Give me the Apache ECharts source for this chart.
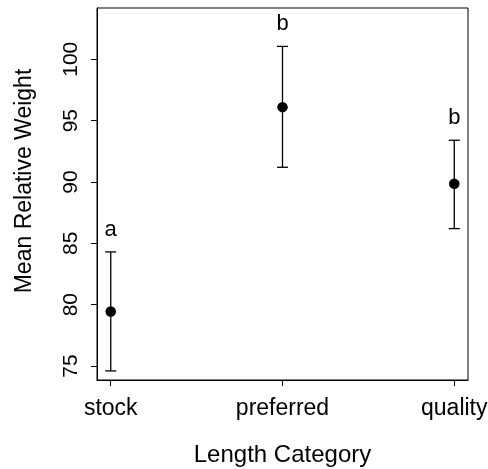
<!DOCTYPE html>
<html>
<head>
<meta charset="utf-8">
<script src="https://cdn.jsdelivr.net/npm/echarts@6/dist/echarts.min.js"></script>
<style>html,body{margin:0;padding:0;background:#fff;}#c{width:488px;height:469px;}</style>
</head>
<body>
<div id="c"></div>
<script>
const categories = ['stock', 'preferred', 'quality'];
const means = [79.45, 96.1, 89.85];
const upper = [84.3, 101.05, 93.4];
const lower = [74.6, 91.2, 86.2];
const letters = ['a', 'b', 'b'];
const yTicks = [75, 80, 85, 90, 95, 100];

const positions = categories.map((c, i) => i + 1);
const FONT = '"Liberation Sans", Arial, sans-serif';

const chart = echarts.init(document.getElementById('c'), null, { renderer: 'canvas' });
chart.setOption({
  animation: false,
  backgroundColor: '#fff',
  grid: { left: 97, right: 20, top: 8, bottom: 89, containLabel: false, outerBoundsMode: 'none',
    show: true, borderColor: '#000', borderWidth: 1, backgroundColor: 'transparent' },
  xAxis: {
    type: 'value', min: 0.92, max: 3.08,
    name: 'Length Category', nameLocation: 'middle', nameGap: 63,
    nameTextStyle: { fontFamily: FONT, fontSize: 24, color: '#000' },
    axisLine: { show: true, lineStyle: { color: '#000', width: 1 } },
    axisTick: { show: true, length: 6, lineStyle: { color: '#000' }, customValues: positions },
    axisLabel: { customValues: positions, margin: 17, fontFamily: FONT, fontSize: 23, color: '#000',
      formatter: v => categories[Math.round(v) - 1] || '' },
    splitLine: { show: false }
  },
  yAxis: {
    type: 'value', min: 73.86, max: 104.18,
    name: 'Mean Relative Weight', nameLocation: 'middle', nameGap: 61, nameRotate: 90,
    nameTextStyle: { fontFamily: FONT, fontSize: 23, color: '#000', padding: [0, 0, 0, 26] },
    axisLine: { show: true, lineStyle: { color: '#000', width: 1 } },
    axisTick: { show: true, length: 6, lineStyle: { color: '#000' }, customValues: yTicks },
    axisLabel: { customValues: yTicks, rotate: 90, margin: 15, fontFamily: FONT, fontSize: 21, color: '#000' },
    splitLine: { show: false }
  },
  series: [
    {
      type: 'custom',
      data: positions.map((x, i) => [x, lower[i], upper[i]]),
      renderItem: function (params, api) {
        const lo = api.coord([api.value(0), api.value(1)]);
        const hi = api.coord([api.value(0), api.value(2)]);
        const cap = 5.5;
        const style = { stroke: '#000', lineWidth: 1.3 };
        return {
          type: 'group',
          children: [
            { type: 'line', shape: { x1: lo[0], y1: lo[1], x2: hi[0], y2: hi[1] }, style },
            { type: 'line', shape: { x1: lo[0] - cap, y1: lo[1], x2: lo[0] + cap, y2: lo[1] }, style },
            { type: 'line', shape: { x1: hi[0] - cap, y1: hi[1], x2: hi[0] + cap, y2: hi[1] }, style }
          ]
        };
      },
      z: 2
    },
    {
      type: 'scatter',
      data: positions.map((x, i) => [x, means[i]]),
      symbol: 'circle', symbolSize: 10.5,
      itemStyle: { color: '#000', opacity: 1 },
      z: 3
    },
    {
      type: 'scatter',
      data: positions.map((x, i) => ({ value: [x, upper[i]], label: { formatter: letters[i] } })),
      symbolSize: 0,
      itemStyle: { opacity: 1 },
      label: { show: true, position: 'top', distance: 11, fontFamily: FONT, fontSize: 22, color: '#000' },
      silent: true,
      z: 3
    }
  ]
});
</script>
</body>
</html>
